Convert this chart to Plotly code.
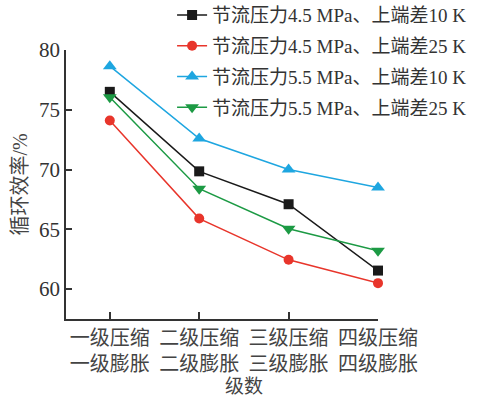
import plotly.graph_objects as go

categories = ["一级压缩<br>一级膨胀", "二级压缩<br>二级膨胀", "三级压缩<br>三级膨胀", "四级压缩<br>四级膨胀"]
series_names = [
    "节流压力4.5 MPa、上端差10 K",
    "节流压力4.5 MPa、上端差25 K",
    "节流压力5.5 MPa、上端差10 K",
    "节流压力5.5 MPa、上端差25 K",
]
black_vals = [76.5, 69.85, 67.1, 61.55]
red_vals = [74.1, 65.9, 62.45, 60.5]
blue_vals = [78.65, 72.6, 70.0, 68.5]
green_vals = [76.05, 68.4, 65.05, 63.2]
y_ticks = [60, 65, 70, 75, 80]

colors = ["#1a1a1a", "#e8352b", "#1ea6e0", "#1c9a44"]
symbols = ["square", "circle", "triangle-up", "triangle-down"]
sizes = [10, 10, 12, 12]
values = [black_vals, red_vals, blue_vals, green_vals]

FONT = "Liberation Serif, Noto Sans CJK SC, serif"

fig = go.Figure()
x_idx = list(range(len(categories)))
for i, (name, vals) in enumerate(zip(series_names, values)):
    fig.add_trace(go.Scatter(
        x=x_idx, y=vals, name=name, mode="lines+markers",
        line=dict(color=colors[i], width=1.5),
        marker=dict(symbol=symbols[i], size=sizes[i], color=colors[i]),
        cliponaxis=False, legendgroup=str(i),
    ))

fig.update_layout(
    width=479, height=400,
    margin=dict(l=66, r=101, t=50, b=81, autoexpand=False),
    paper_bgcolor="white", plot_bgcolor="white",
    font=dict(family=FONT, size=20, color="#333333"),
    showlegend=True,
    legend=dict(
        x=0.34, y=1.2, xanchor="left", yanchor="top",
        bgcolor="rgba(0,0,0,0)", font=dict(size=19, color="#333333"),
        tracegroupgap=3, itemwidth=30,
    ),
    xaxis=dict(
        range=[-0.49, 3.0], tickmode="array", tickvals=x_idx, ticktext=categories,
        tickangle=0,
        showline=True, linecolor="#333333", linewidth=1.5,
        ticks="inside", ticklen=7, tickcolor="#333333", tickwidth=1.5,
        showgrid=False, zeroline=False,
        tickfont=dict(size=20, color="#444444"),
    ),
    yaxis=dict(
        range=[57.5, 80], tickmode="array", tickvals=y_ticks,
        showline=True, linecolor="#333333", linewidth=1.5,
        ticks="inside", ticklen=6, tickcolor="#333333", tickwidth=1.5,
        showgrid=False, zeroline=False,
        tickfont=dict(size=21, color="#333333"),
        title=dict(text="循环效率/%", font=dict(size=20, color="#444444"), standoff=6),
    ),
    annotations=[dict(
        x=1.5, xref="x", y=-0.25, yref="paper", text="级数", showarrow=False,
        font=dict(size=19, color="#444444"), yanchor="middle",
    )],
)

fig.write_html("out.html")
